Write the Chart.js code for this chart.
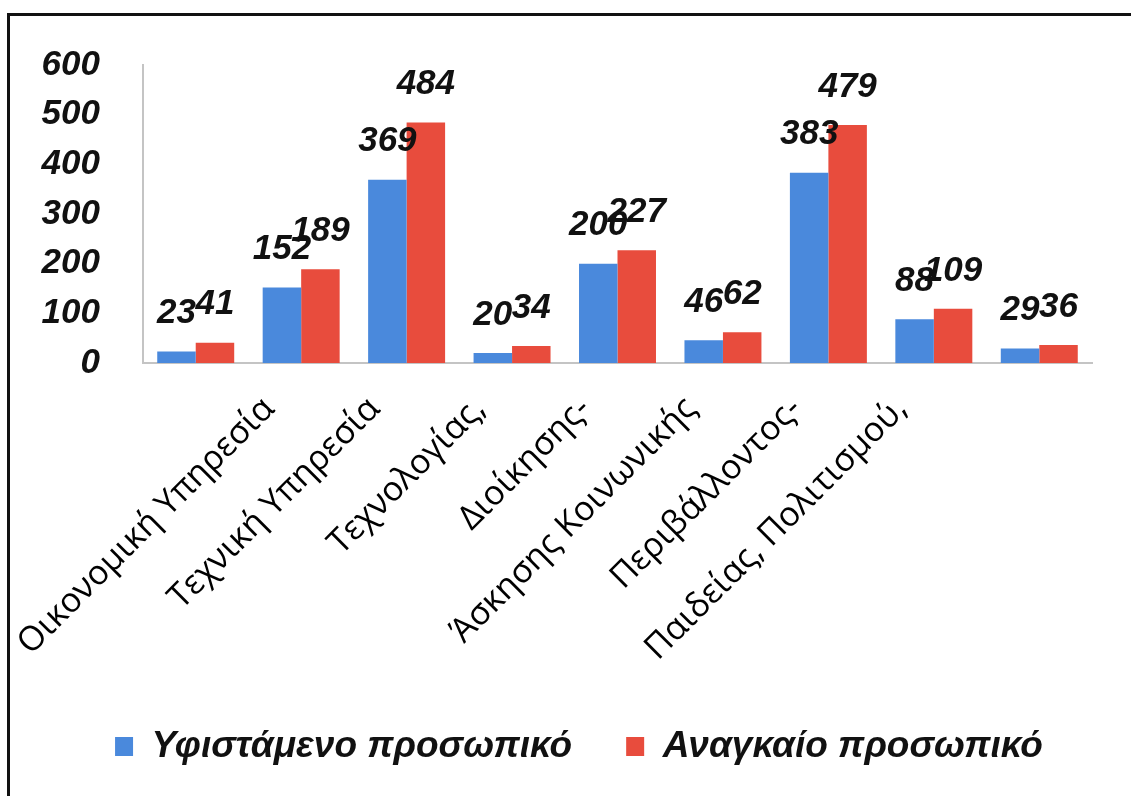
<!DOCTYPE html>
<html>
<head>
    <meta charset="utf-8">
    <title>Προσωπικό ανά υπηρεσία</title>
    <script src="https://cdn.jsdelivr.net/npm/chart.js"></script>
    <style>
        body { margin: 0; background: #fff; }
        #wrap { position: relative; width: 1131px; height: 796px; }
        #frame {
            position: absolute; left: 7px; top: 13px; right: 0; bottom: 0;
            border-top: 3px solid #111; border-left: 3px solid #111;
        }
        canvas { position: absolute; left: 0; top: 0; }
    </style>
</head>
<body>
    <div id="wrap">
        <div id="frame"></div>
        <canvas id="myChart"></canvas>
    </div>
    <script>
        const categories = ['', 'Οικονομική Υπηρεσία', 'Τεχνική Υπηρεσία', 'Τεχνολογίας,', 'Διοίκησης-',
            'Άσκησης Κοινωνικής', 'Περιβάλλοντος-', 'Παιδείας, Πολιτισμού,', ''];
        const existing = [23, 152, 369, 20, 200, 46, 383, 88, 29];
        const needed = [41, 189, 484, 34, 227, 62, 479, 109, 36];
        const yTicks = [0, 100, 200, 300, 400, 500, 600];

        const ARIAL = "'Liberation Sans', Arial, sans-serif";
        const boldItalic = (size) => ({ family: ARIAL, size: size, weight: 'bold', style: 'italic' });

        // value labels above each bar
        const valueLabels = {
            id: 'valueLabels',
            afterDatasetsDraw(chart) {
                const ctx = chart.ctx;
                ctx.save();
                ctx.font = "italic bold 35px " + ARIAL;
                ctx.fillStyle = '#111';
                ctx.textAlign = 'center';
                ctx.textBaseline = 'middle';
                chart.data.datasets.forEach((ds, i) => {
                    chart.getDatasetMeta(i).data.forEach((bar, j) => {
                        ctx.fillText(ds.data[j], bar.x, bar.y - 38);
                    });
                });
                ctx.restore();
            }
        };

        // nudge the legend row a little to the right
        const legendShift = {
            id: 'legendShift',
            afterLayout(chart) {
                chart.legend.left += 18;
                chart.legend.right += 18;
            }
        };

        const data = {
            labels: categories,
            datasets: [{
                label: 'Υφιστάμενο προσωπικό',
                data: existing,
                backgroundColor: '#4a89dc'
            }, {
                label: 'Αναγκαίο προσωπικό',
                data: needed,
                backgroundColor: '#e84c3d'
            }]
        };

        const config = {
            type: 'bar',
            data: data,
            plugins: [valueLabels, legendShift],
            options: {
                responsive: true,
                maintainAspectRatio: false,
                animation: false,
                layout: { padding: { left: 30, top: 65, right: 39, bottom: 21 } },
                datasets: { bar: { barPercentage: 1, categoryPercentage: 0.73 } },
                plugins: {
                    tooltip: { enabled: false },
                    legend: {
                        position: 'bottom',
                        labels: {
                            color: '#111',
                            font: boldItalic(37),
                            boxWidth: 18,
                            boxHeight: 19,
                            padding: 54
                        }
                    }
                },
                scales: {
                    x: {
                        grid: { display: false, drawTicks: false },
                        border: { display: true, color: '#c4c4c4', width: 2 },
                        ticks: {
                            autoSkip: false,
                            minRotation: 45,
                            maxRotation: 45,
                            padding: 26,
                            labelOffset: -32,
                            color: '#000',
                            font: { family: "'Open Sans', 'Noto Sans', sans-serif", size: 34, weight: 500 }
                        },
                        afterFit: (axis) => { axis.height = 311; }
                    },
                    y: {
                        min: 0,
                        max: 600,
                        grid: { display: false, drawTicks: false },
                        border: { display: true, color: '#c4c4c4', width: 2 },
                        afterBuildTicks: (axis) => { axis.ticks = yTicks.map(v => ({ value: v })); },
                        ticks: {
                            padding: 43,
                            color: '#111',
                            font: boldItalic(35)
                        },
                        afterFit: (axis) => { axis.width = 113; }
                    }
                }
            }
        };

        var myChart = new Chart(document.getElementById('myChart'), config);
    </script>
</body>
</html>
